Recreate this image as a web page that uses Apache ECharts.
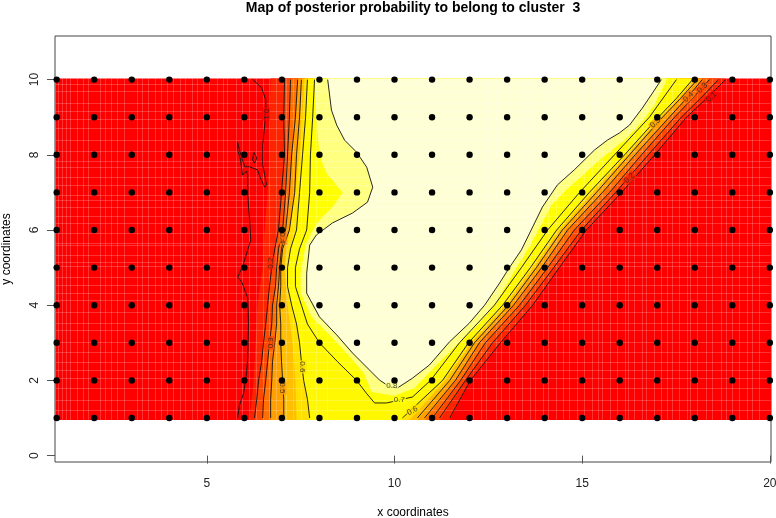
<!DOCTYPE html>
<html>
<head>
<meta charset="utf-8">
<script src="https://cdn.jsdelivr.net/npm/echarts@6/dist/echarts.min.js"></script>
<style>
html, body { margin: 0; padding: 0; background: #fff; }
#chart { width: 776px; height: 518px; }
</style>
</head>
<body>
<div id="chart"></div>
<script>
// sample sites
const xSites = [1,2,3,4,5,6,7,8,9,10,11,12,13,14,15,16,17,18,19,20]
const ySites = [1,2,3,4,5,6,7,8,9,10]

// contour readings, left flank of the cluster (x at each row)
const leftRows = [10,9,8,7,6,5.5,5,4.5,4,3.5,3,2.5,2,1.5,1]
const left02 = [7.07,7.05,7.07,6.99,6.91,6.81,6.73,6.67,6.62,6.57,6.51,6.46,6.38,6.33,6.27]
const left03 = [7.23,7.20,7.15,7.10,7.02,6.91,6.86,6.83,6.75,6.73,6.67,6.62,6.57,6.51,6.49]
const left04 = [7.42,7.36,7.26,7.20,7.10,6.99,6.94,6.91,6.86,6.86,6.81,6.75,6.73,6.70,6.70]
const left05 = [7.52,7.47,7.39,7.34,7.20,7.02,6.97,6.97,6.94,6.97,6.97,6.99,7.02,7.05,7.05]
const left06 = [7.68,7.63,7.55,7.47,7.39,7.23,7.15,7.15,7.26,7.39,7.47,7.52,7.58,7.68,7.74]

// contour readings, right flank
const rightRows = [1,2,3,4,5,6,7,8,9,9.5,10]
const right01 = [11.47,12.02,12.82,13.68,14.39,15.11,16.05,16.93,17.78,18.31,18.82]
const right02 = [11.20,11.89,12.61,13.49,14.24,14.98,15.89,16.76,17.64,18.15,18.63]
const right03 = [11.01,11.76,12.42,13.33,14.08,14.79,15.73,16.58,17.46,17.94,18.39]
const right04 = [10.80,11.62,12.26,13.17,13.92,14.61,15.54,16.41,17.32,17.78,18.20]
const right05 = [10.61,11.47,12.13,13.04,13.78,14.47,15.38,16.26,17.14,17.62,18.07]
const right06 = [10.21,11.28,11.97,12.88,13.62,14.32,15.19,16.13,17.03,17.51,17.94]

// edge of pure red on the left side
const redEdgeRows = [10,9,8,7,6,5,4,3,2,1]
const redEdge = [6.70,6.67,6.67,6.62,6.54,6.49,6.35,6.30,6.25,6.14]

// edge of the deep gold to pale gold colour step
const goldEdgeRows = [10,9,8,7,6,5,4,3,2,1]
const goldEdge = [7.60,7.55,7.47,7.36,7.20,7.07,7.15,7.28,7.36,7.39]
const goldRight = [10.4,11.35,12.05,12.96,13.7,14.4,15.28,16.2,17.08,17.56,18.0]

const contour01 = [[6.22,10],[6.33,9.91],[6.46,9.78],[6.57,9.46],[6.57,9.14],[6.54,8.79],[6.49,8.26],[6.49,7.73],[6.59,7.20],[6.54,7.14],[6.43,7.38],[6.35,7.60],[6.14,7.68],[6.01,7.68],[5.95,7.86],[5.87,8.13],[5.82,8.34],[5.82,8.13],[5.90,7.86],[5.95,7.46],[6.06,7.57],[6.09,7.46],[6.09,6.93],[6.14,6.27],[6.17,5.73],[6.09,5.47],[5.95,5.02],[5.82,4.75],[5.93,4.62],[6.09,4.19],[6.11,3.53],[6.09,2.62],[6.06,2.20],[5.98,1.66],[5.87,1.34],[5.82,1]]
const contour01Loop = [[6.25,8.07],[6.33,7.91],[6.27,7.78],[6.22,7.86],[6.25,8.07]]
const contour07 = [[7.87,10],[7.82,9],[7.76,8],[7.74,7],[7.66,6],[7.47,5.5],[7.36,5],[7.36,4.5],[7.52,4],[7.68,3.5],[8.00,3],[8.48,2.5],[8.99,2],[9.25,1.66],[9.47,1.40],[9.79,1.40],[10.48,1.56],[10.96,2],[11.73,3],[12.66,4],[13.38,5],[14.08,6],[14.93,7],[15.86,8],[16.79,9],[17.51,10]]
const contour08 = [[8.22,10],[8.32,9.19],[8.46,8.79],[8.67,8.39],[8.99,8.07],[9.26,7.67],[9.42,7.14],[9.28,6.74],[8.88,6.45],[8.35,6.19],[7.92,5.87],[7.74,5.60],[7.66,4.85],[7.66,4.32],[8.00,3.69],[8.46,3.21],[8.88,2.73],[9.33,2.28],[9.60,2.01],[9.87,1.83],[10.08,1.80],[10.48,2.06],[10.93,2.41],[11.46,3.02],[11.99,3.52],[12.40,4],[12.80,4.59],[13.06,5],[13.38,5.47],[13.68,6.08],[13.94,6.61],[14.34,7.20],[14.79,7.60],[15.33,8.13],[15.67,8.39],[15.99,8.58],[16.26,8.79],[16.60,9.24],[16.87,9.64],[17.11,10]]
// outline of the light yellow colour step, just outside the 0.8 contour
const lightEdge = [[7.87,10],[7.92,9],[8.00,8],[8.19,7.5],[8.62,7],[8.35,6.61],[8.08,6.35],[7.87,6.08],[7.63,5.6],[7.50,4.85],[7.50,4.32],[7.79,3.69],[8.27,3.21],[8.72,2.73],[9.18,2.2],[9.39,1.69],[10.0,1.59],[10.53,1.8],[11.12,2.41],[11.65,2.94],[12.21,3.47],[12.66,4],[13.25,5],[13.54,5.47],[13.86,6.05],[14.18,6.66],[14.58,7.07],[15.0,7.44],[15.46,7.86],[16.12,8.39],[16.52,8.79],[16.92,9.32],[17.27,10]]

// contour label text and where it sits
const labelText = ['0.1','0.2','0.3','0.4','0.5','0.6','0.8','0.7','0.6','0.5','0.4','0.3','0.1','0.2']
const labelX = [6.57,6.70,6.70,7.02,7.02,7.55,9.93,10.13,10.48,16.95,17.83,18.2,18.44,16.26]
const labelY = [9.08,5.12,3.0,5.79,1.8,2.36,1.85,1.48,1.19,8.85,9.54,9.78,9.54,7.38]

// pale seams between image cells
const seamX = [1.03,1.13,1.24,1.35,1.53,1.69,1.83,2.15,2.28,2.46,2.62,2.78,3.13,3.26,3.42,3.61,3.77,3.93,4.09,4.28,4.41,4.60,4.75,4.89,5.07,5.26,5.42,5.55,5.79,5.95,6.12,6.3,6.5,6.65,6.85,7.1,7.3,7.5,7.9,8.2,12.1,12.3,12.45,12.7,12.85,13.05,13.2,13.4,13.6,13.75,13.95,14.1,14.3,14.5,14.65,14.85,15.05,15.27,15.43,15.54,15.75,15.94,16.13,16.21,16.39,16.58,16.71,16.92,17.11,17.27,17.40,17.59,17.78,17.86,18.07,18.31,18.47,18.71,18.84,19.0,19.19,19.38,19.53,19.72]
const seamY = [9.88,9.70,9.38,9.16,8.95,8.71,8.39,8.10,7.84,7.68,7.41,7.20,6.93,6.80,6.61,6.37,6.19,5.92,5.65,5.60,5.34,5.16,5.03,4.76,4.55,4.32,4.14,3.82,3.53,3.34,3.02,2.76,2.49,2.28,2.07,1.80,1.48,1.21]

const IMG_LEFT = 0.97
const IMG_RIGHT = 20.03
const IMG_TOP = 10.03
const IMG_BOTTOM = 0.95

function pairs(xs, ys) {
  return xs.map((x, i) => [x, ys[i]])
}

// stretch a contour end that stops on y=1 or y=10 to the image edge
function toEdge(p) {
  if (p[1] === 10) return [p[0], IMG_TOP]
  if (p[1] === 1) return [p[0], IMG_BOTTOM]
  return p
}

function flank(leftXs, leftYs, rightXs) {
  const l = pairs(leftXs, leftYs)
  return l.concat(pairs(rightXs, rightRows)).map(toEdge)
}

const fills = [
  { color: '#FF0000', poly: [[IMG_LEFT, IMG_BOTTOM], [IMG_RIGHT, IMG_BOTTOM], [IMG_RIGHT, IMG_TOP], [IMG_LEFT, IMG_TOP]] },
  { color: '#FF2400', poly: flank(redEdge, redEdgeRows, right01) },
  { color: '#FF4800', poly: flank(left02, leftRows, right02) },
  { color: '#FF7000', poly: flank(left03, leftRows, right03) },
  { color: '#FF9F00', poly: flank(left04, leftRows, right04) },
  { color: '#FFBF00', poly: flank(left05, leftRows, right05) },
  { color: '#FFE000', poly: flank(goldEdge, goldEdgeRows, goldRight) },
  { color: '#FFF800', poly: flank(left06, leftRows, right06) },
  { color: '#FFFF00', poly: contour07.map(toEdge) },
  { color: '#FFFF80', poly: lightEdge.map(toEdge) },
  { color: '#FFFFD5', poly: contour08.map(toEdge) }
]

const contours = [
  contour01, contour01Loop,
  pairs(left02, leftRows), pairs(right02, rightRows),
  pairs(left03, leftRows), pairs(right03, rightRows),
  pairs(left04, leftRows), pairs(right04, rightRows),
  pairs(left05, leftRows), pairs(right05, rightRows),
  pairs(left06, leftRows), pairs(right06, rightRows),
  contour07, contour08,
  pairs(right01, rightRows)
]

const sites = []
ySites.forEach(y => xSites.forEach(x => sites.push([x, y])))

// label rotation and the colour behind it, same order as labelText
const labelRotate = [-90,90,90,-90,-90,-90,0,0,30,45,45,45,45,45]
const labelBack = ['#FF0000','#FF2400','#FF4800','#FF7000','#FF9F00','#FFE000','#FFFF80','#FFFF00','#FFE000','#FF9F00','#FF7000','#FF4800','#FF0000','#FF2400']

const chart = echarts.init(document.getElementById('chart'))
const FONT = '"Liberation Sans", Arial, sans-serif'

const series = []

series.push({
  type: 'custom',
  coordinateSystem: 'cartesian2d',
  silent: true,
  clip: false,
  z: 1,
  data: fills.map((f, i) => [i, 0]),
  encode: { x: 0, y: 1 },
  renderItem: (params, api) => {
    const f = fills[api.value(0)]
    return {
      type: 'polygon',
      shape: { points: f.poly.map(p => api.coord(p)) },
      style: { fill: f.color, stroke: null }
    }
  }
})

// seams, vertical then horizontal, snapped so they stay one pixel wide
series.push({
  type: 'custom',
  coordinateSystem: 'cartesian2d',
  silent: true,
  clip: false,
  z: 2,
  data: seamX.map(x => [x, IMG_BOTTOM, x, IMG_TOP]).concat(seamY.map(y => [IMG_LEFT, y, IMG_RIGHT, y])),
  encode: { x: [0, 2], y: [1, 3] },
  renderItem: (params, api) => {
    const a = api.coord([api.value(0), api.value(1)])
    const b = api.coord([api.value(2), api.value(3)])
    const vertical = api.value(0) === api.value(2)
    return {
      type: 'line',
      shape: {
        x1: vertical ? Math.round(a[0]) + 0.5 : a[0],
        y1: vertical ? a[1] : Math.round(a[1]) + 0.5,
        x2: vertical ? Math.round(b[0]) + 0.5 : b[0],
        y2: vertical ? b[1] : Math.round(b[1]) + 0.5
      },
      style: { stroke: 'rgba(255,255,255,0.2)', lineWidth: 1 }
    }
  }
})

contours.forEach(c => {
  series.push({
    type: 'line',
    data: c,
    z: 3,
    silent: true,
    showSymbol: false,
    clip: false,
    lineStyle: { color: '#111', width: 0.9 }
  })
})

series.push({
  type: 'scatter',
  silent: true,
  z: 4,
  symbolSize: 0,
  data: labelText.map((t, i) => ({
    value: [labelX[i], labelY[i]],
    label: {
      show: true,
      position: 'inside',
      formatter: t,
      rotate: labelRotate[i],
      fontFamily: FONT,
      fontSize: 8,
      color: '#222',
      backgroundColor: labelBack[i],
      padding: [0, 1]
    }
  }))
})

series.push({
  type: 'scatter',
  silent: true,
  z: 5,
  clip: false,
  symbol: 'circle',
  symbolSize: 6.4,
  itemStyle: { color: '#000', opacity: 1 },
  data: sites
})

chart.setOption({
  animation: false,
  backgroundColor: '#fff',
  title: {
    text: 'Map of posterior probability to belong to cluster  3',
    left: 408,
    top: -4,
    textAlign: 'center',
    textStyle: { fontFamily: FONT, fontSize: 14, fontWeight: 'bold', color: '#000' }
  },
  grid: { left: 55, right: 5, top: 36, bottom: 56, show: true, outerBoundsMode: 'none', containLabel: false, borderColor: '#444', borderWidth: 1, backgroundColor: 'transparent' },
  xAxis: {
    type: 'value',
    min: 0.955,
    max: 20.03,
    name: 'x coordinates',
    nameLocation: 'middle',
    nameGap: 45,
    nameTextStyle: { fontFamily: FONT, fontSize: 12, color: '#000' },
    axisLine: { show: false },
    splitLine: { show: false },
    axisTick: { show: true, length: 8, customValues: [5, 10, 15, 20], lineStyle: { color: '#555' } },
    axisLabel: { customValues: [5, 10, 15, 20], margin: 16, fontFamily: FONT, fontSize: 12, color: '#222' }
  },
  yAxis: {
    type: 'value',
    min: -0.17,
    max: 11.16,
    name: 'y coordinates',
    nameLocation: 'middle',
    nameGap: 42,
    nameTextStyle: { fontFamily: FONT, fontSize: 12, color: '#000' },
    axisLine: { show: false },
    splitLine: { show: false },
    axisTick: { show: true, length: 8, customValues: [0, 2, 4, 6, 8, 10], lineStyle: { color: '#555' } },
    axisLabel: { customValues: [0, 2, 4, 6, 8, 10], rotate: 90, margin: 14, fontFamily: FONT, fontSize: 12, color: '#222' }
  },
  series: series
})
</script>
</body>
</html>
